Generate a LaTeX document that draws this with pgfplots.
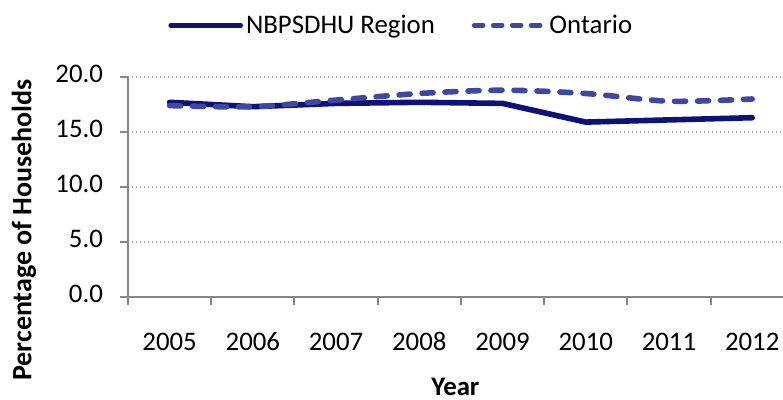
\documentclass[border=0pt]{standalone}
\usepackage{pgfplots}
\pgfplotsset{compat=1.18}
\usepackage{fontspec}
\setmainfont{Carlito}[Numbers=Lining]
\definecolor{navy1}{HTML}{0D1178}
\definecolor{onta}{HTML}{3F48A0}
\definecolor{axgray}{HTML}{868686}
\definecolor{gridgray}{HTML}{A6A6A6}
\begin{document}
\begin{tikzpicture}
\path[use as bounding box] (-64pt,-51.5pt) rectangle (327.5pt,148.5pt);
\begin{axis}[
  at={(0,0)}, anchor=south west,
  scale only axis,
  width=327.5pt, height=110pt,
  xmin=-0.5, xmax=7.37,
  ymin=0, ymax=20,
  clip=false,
  axis x line*=bottom, axis y line*=left,
  axis line style={axgray, line width=1pt, -},
  every tick/.style={axgray, line width=1pt},
  tick align=outside,
  xtick={0,...,7},
  xticklabels={2005,2006,2007,2008,2009,2010,2011,2012},
  x tick style={draw=none},
  extra x ticks={-0.5,0.5,1.5,2.5,3.5,4.5,5.5,6.5},
  extra x tick labels={},
  extra x tick style={major tick length=4pt, x tick style={draw=axgray}, grid=none},
  ytick={0,5,10,15,20},
  major tick length=4pt,
  ymajorgrids,
  major grid style={gridgray, line width=0.7pt, dash pattern=on 0.7pt off 1.3pt},
  /pgf/number format/.cd, fixed, fixed zerofill, precision=1, assume math mode=true,
  /pgfplots/.cd,
  typeset ticklabels with strut,
  ticklabel style={font=\fontsize{13.4}{15}\selectfont, text=black},
  yticklabel style={xshift=-5pt},
  xticklabel style={yshift=-8.5pt},
  xlabel={Year},
  xlabel style={at={(axis description cs:0.5,0)}, anchor=center, yshift=-45pt, font=\fontsize{13.4}{15}\selectfont\bfseries},
  ylabel={Percentage of Households},
  ylabel style={at={(axis description cs:0,0.305)}, anchor=center, yshift=52pt, font=\fontsize{14}{16}\selectfont\bfseries},
  legend columns=2,
  legend style={draw=none, at={(axis description cs:0.418,1.235)}, anchor=center,
    font=\fontsize{13.4}{15}\selectfont, /tikz/every even column/.append style={column sep=17pt},
    nodes={inner sep=1.5pt}},
  legend image code/.code={\draw[#1, line width=2.3pt] (0pt,0pt) -- (35pt,0pt);},
]
\addplot[navy1, line width=2.8pt, line join=round, line cap=round] coordinates {
 (0,17.7) (1,17.3) (2,17.6) (3,17.7) (4,17.6) (5,15.9) (6,16.1) (7,16.3)};
\addlegendentry{NBPSDHU Region}
\addplot[onta, line width=2.8pt, line cap=round, dash pattern=on 5.5pt off 6pt, smooth,
  legend image post style={dash pattern=on 4.5pt off 5pt}] coordinates {
 (0,17.4) (1,17.3) (2,17.9) (3,18.5) (4,18.8) (5,18.5) (6,17.8) (7,18.0)};
\addlegendentry{Ontario}
\end{axis}
\end{tikzpicture}
\end{document}
